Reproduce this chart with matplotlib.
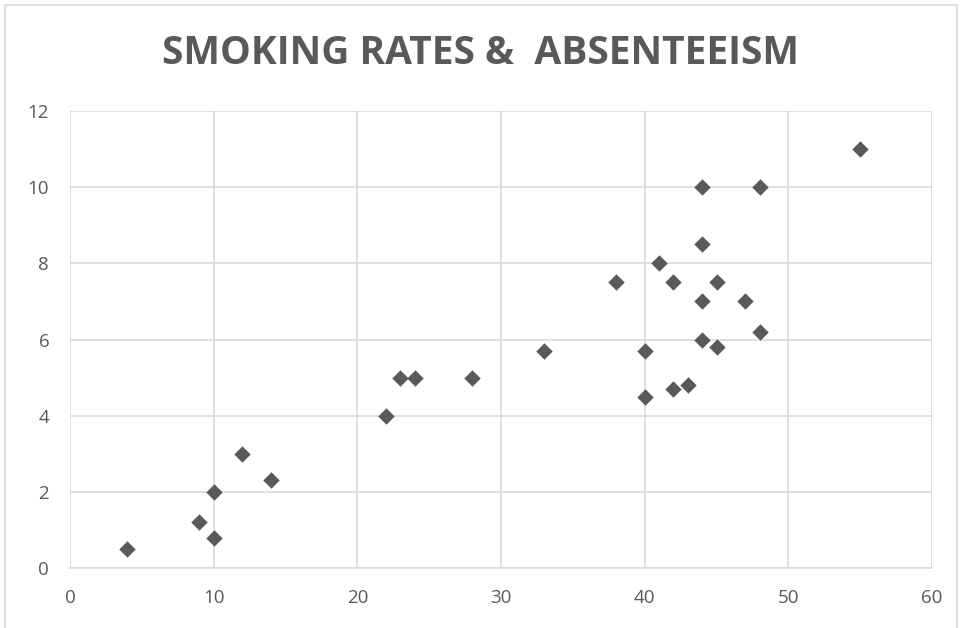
import matplotlib.pyplot as plt
from matplotlib.patches import Rectangle

# smoking rate (%) vs. absenteeism (days)
smoking = [4, 9, 10, 10, 12, 14, 22, 23, 24, 28, 33, 38, 40, 40, 41, 42, 42,
           43, 44, 44, 44, 44, 45, 45, 47, 48, 48, 55]
absent = [0.5, 1.2, 0.8, 2.0, 3.0, 2.3, 4.0, 5.0, 5.0, 5.0, 5.7, 7.5, 5.7, 4.5,
          8.0, 7.5, 4.7, 4.8, 10.0, 8.5, 7.0, 6.0, 7.5, 5.8, 7.0, 10.0, 6.2, 11.0]

X_TICKS = list(range(0, 61, 10))
Y_TICKS = list(range(0, 13, 2))

plt.rcParams["font.family"] = ["Open Sans", "DejaVu Sans"]
GREY = "#595959"

fig = plt.figure(figsize=(9.61, 6.28), dpi=100)
# thin chart-area frame
fig.patches.append(Rectangle((5 / 961, -0.01), 952 / 961, 1 - 5 / 628 + 0.01,
                             transform=fig.transFigure, fill=False,
                             edgecolor="#d9d9d9", lw=1.2))

ax = fig.add_axes([70 / 961, 1 - 568 / 628, 862 / 961, 457 / 628])
ax.scatter(smoking, absent, marker="D", s=70, color=GREY, zorder=3,
           linewidths=0)

ax.set_xlim(0, 60)
ax.set_ylim(0, 12)
ax.set_xticks(X_TICKS)
ax.set_yticks(Y_TICKS)
ax.grid(True, color="#d9d9d9", lw=1.2)
ax.set_axisbelow(True)
for side in ("top", "right", "left"):
    ax.spines[side].set_visible(False)
ax.spines["bottom"].set_color("#d9d9d9")
ax.spines["bottom"].set_linewidth(1.2)
ax.tick_params(length=0, labelsize=13.5, labelcolor=GREY)
ax.tick_params(axis="x", pad=15)
ax.tick_params(axis="y", pad=15)

fig.text(0.5, 1 - 54 / 628, "SMOKING RATES &  ABSENTEEISM", ha="center",
         va="center", fontsize=28, fontweight="bold", color=GREY)

fig.savefig("out.png", dpi=100)
